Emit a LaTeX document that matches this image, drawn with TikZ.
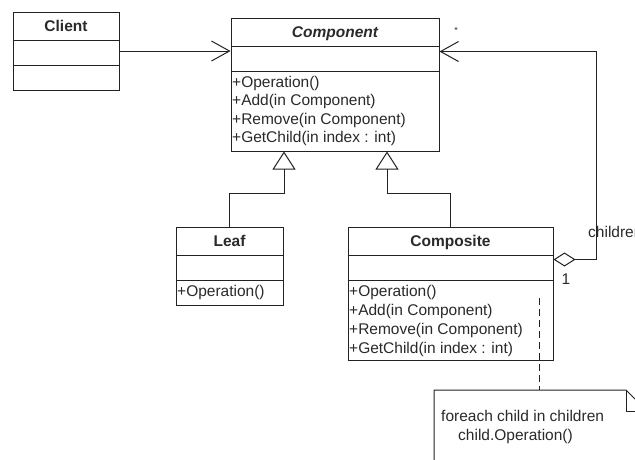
\documentclass[tikz,border=0pt]{standalone}
\usepackage{fontspec}
\setmainfont{Liberation Sans}
\usetikzlibrary{arrows.meta}
\definecolor{ink}{HTML}{222222}
\definecolor{txt}{HTML}{2A2A2A}
\begin{document}
\begin{tikzpicture}[x=1pt,y=-1pt,
  every node/.style={font=\fontsize{15.5}{18}\selectfont, text=txt, inner sep=0pt},
  classbox/.style={draw=ink, line width=1pt, fill=white, rectangle},
  classname/.style={anchor=base, font=\fontsize{15.5}{18}\selectfont\bfseries},
  member/.style={anchor=base west},
  divider/.style={draw=ink, line width=1pt},
  assoc/.style={draw=ink, line width=1pt, -{Straight Barb[length=18pt,width=20pt,line width=1pt]}},
  gen/.style={draw=ink, line width=1pt, -{Triangle[open,length=18pt,width=23pt,line width=1pt]}},
  agg/.style={draw=ink, line width=1pt, {Diamond[open,length=22pt,width=14pt,line width=1pt]}-{Straight Barb[length=18pt,width=20pt,line width=1pt]}},
  anchorline/.style={draw=ink, line width=1pt, dash pattern=on 7pt off 4pt},
  notebox/.style={draw=ink, line width=1pt, fill=white}
]
\useasboundingbox (0,0) rectangle (635,459);
\begin{scope}
\clip (0,0) rectangle (635,459);

% --- class boxes ---
\node[classbox, minimum width=106pt, minimum height=78pt] (client) at (66,51) {};
\node[classbox, minimum width=208pt, minimum height=133pt] (comp) at (335,84.5) {};
\node[classbox, minimum width=107pt, minimum height=78pt] (leaf) at (229.5,266) {};
\node[classbox, minimum width=205pt, minimum height=133pt] (compo) at (450.5,293.5) {};

% compartment dividers
\foreach \b in {client,comp,leaf,compo}{
  \draw[divider] ([yshift=-29pt]\b.north west) -- ([yshift=-29pt]\b.north east);
  \draw[divider] ([yshift=-54pt]\b.north west) -- ([yshift=-54pt]\b.north east);
}

% --- names ---
\node[classname] (clientname) at (66,31) {Client};
\node[classname, font=\fontsize{15.5}{18}\selectfont\bfseries\itshape] (compname) at (335,37) {Component};
\node[classname] (leafname) at (229.5,246) {Leaf};
\node[classname] (componame) at (450.5,246) {Composite};

% --- operations ---
\node[member] (compop1) at (232,87) {+Operation()};
\node[member] (compop2) at (232,105.5) {+Add(in Component)};
\node[member] (compop3) at (232,124) {+Remove(in Component)};
\node[member] (compop4) at (232,142.5) {+GetChild(in index : int)};

\node[member] (leafop1) at (177,296) {+Operation()};

\node[member] (compoop1) at (349,296) {+Operation()};
\node[member] (compoop2) at (349,315) {+Add(in Component)};
\node[member] (compoop3) at (349,334) {+Remove(in Component)};
\node[member] (compoop4) at (349,353) {+GetChild(in index : int)};

% --- relations ---
\draw[assoc] (client.east) -- (client.east -| comp.west);
\draw[gen] (leaf.north) -- ++(0,-33) -| ([xshift=-51pt]comp.south);
\draw[gen] (compo.north) -- ++(0,-33) -| ([xshift=52pt]comp.south);
\draw[agg] ([yshift=-33pt]compo.north east) -- ++(43,0) |- ([yshift=-34pt]comp.north east);

\node[font=\fontsize{9}{10}\selectfont] (many) at (456,30) {*};
\node[anchor=west] (childlabel) at (588,232) {children};
\node (one) at (566,279) {1};

% --- note attached to Composite ---
\coordinate (notefrom) at (539,298);
\coordinate (noteto) at (539,390);
\draw[anchorline] (notefrom) -- (noteto);
\path[notebox] (434,390) -- (626,390) -- (647,411) -- (647,475) -- (434,475) -- cycle;
\draw[divider] (626,390) -- (626,411) -- (647,411);
\node[member] (notel1) at (441,421) {foreach child in children};
\node[member] (notel2) at (458,440) {child.Operation()};
\end{scope}
\end{tikzpicture}
\end{document}
